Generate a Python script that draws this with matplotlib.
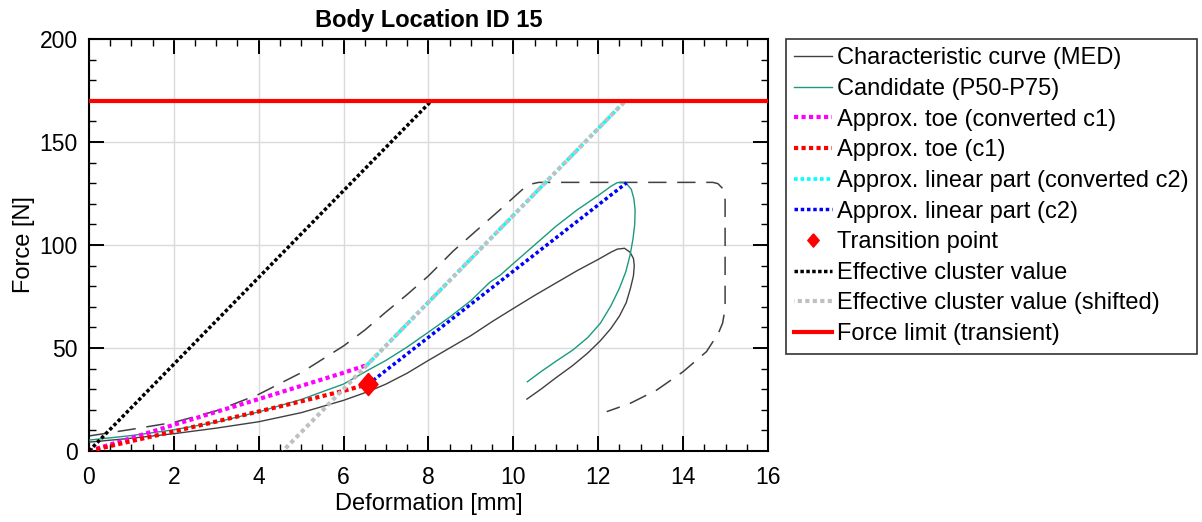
import numpy as np
import matplotlib
matplotlib.use('Agg')
import matplotlib.pyplot as plt
from matplotlib.ticker import MultipleLocator

plt.rcParams['font.family'] = ['Liberation Sans', 'DejaVu Sans']

# curva caracteristica (mediana)
med_x = [0, 1, 2, 3, 4, 5, 6, 6.6, 7, 7.5, 8, 8.5, 9, 9.5, 10, 10.5, 11, 11.5,
         12, 12.3, 12.45, 12.62, 12.75, 12.83, 12.85, 12.83, 12.76, 12.66, 12.5,
         12.3, 12.05, 11.75, 11.4, 11.0, 10.65, 10.32]
med_y = [4.3, 6.2, 8.4, 11.1, 14.2, 18.6, 24.6, 29.0, 32.5, 37.8, 44.0, 50.0,
         56.0, 62.8, 69.2, 75.5, 81.5, 87.5, 93.0, 96.5, 98.0, 98.4, 96.5, 93.5,
         90.0, 85.0, 79.0, 72.0, 65.5, 59.5, 53.5, 47.5, 41.5, 35.5, 30.0, 25.2]

# candidato P50-P75
cand_x = [0, 1, 2, 3, 4, 5, 6, 6.6, 7, 7.5, 8, 8.5, 9, 9.45, 9.7, 10, 10.5,
          11, 11.5, 12, 12.3, 12.45, 12.65, 12.78, 12.84, 12.87, 12.86, 12.82,
          12.75, 12.65, 12.5, 12.3, 12.05, 11.75, 11.4, 11.0, 10.65, 10.33]
cand_y = [5.3, 7.5, 10.3, 14.0, 19.0, 25.0, 32.5, 39.5, 44.0, 50.5, 57.7, 65.0,
          73.0, 82.0, 85.5, 91.0, 100.0, 109.0, 117.0, 124.0, 128.5, 130.3,
          130.2, 127.0, 122.5, 117.0, 110.0, 103.0, 95.0, 87.0, 79.0, 70.5,
          62.0, 55.0, 49.0, 43.5, 38.5, 33.6]

# envelope (tracejado)
env_x = [0, 1, 2, 3, 4, 5, 6, 6.5, 7, 7.5, 8, 8.58, 9.68, 10.2, 10.4, 10.6,
         14.7, 14.82, 14.93, 14.99, 14.99, 14.93, 14.83, 14.55, 14.0, 13.38,
         12.75, 12.2]
env_y = [7.3, 10.5, 13.9, 19.5, 27.5, 38.0, 51.0, 58.7, 67.5, 76.0, 85.0, 97.0,
         117.0, 126.7, 129.5, 130.4, 130.4, 129.8, 127.5, 122.0, 69.0, 62.0,
         57.1, 48.2, 38.5, 29.6, 23.1, 19.1]

# aproximacao do pe (toe)
toe_x = [0, 1, 2, 3, 4, 5, 6, 6.58]
toe_c1 = [0, 4.8, 9.5, 14.3, 19.2, 24.1, 29.2, 32.4]
toe_conv_x = [0, 1, 2, 3, 4, 5, 6, 6.55]
toe_conv_c1 = [0, 6.3, 12.7, 19.0, 25.2, 31.6, 38.0, 41.7]

# parte linear
lin_x = [6.58, 12.67]
lin_c2 = [32.4, 130.2]
lin_conv_x = [6.55, 12.64]
lin_conv_c2 = [41.7, 170.0]

# ponto de transicao
trans_x = [6.58]
trans_y = [32.4]

# valor efetivo do cluster
eff_x = [0, 8.07]
eff_y = [0, 170.0]
eff_shift_x = [4.57, 12.64]
eff_shift_y = [0, 170.0]

force_limit = 170.0
x_lim = [0, 16]
y_lim = [0, 200]

dot = (0, (1, 0.8))
diamond = [(0, 1), (0.86, 0), (0, -1), (-0.86, 0), (0, 1)]

fig = plt.figure(figsize=(12.02, 5.22), dpi=100)
ax = fig.add_axes([0.0740, 0.1360, 0.5649, 0.7893])

ax.plot(env_x, env_y, color='#404040', lw=1.1, linestyle=(0, (12, 7)), zorder=2)
ax.plot(med_x, med_y, color='#404040', lw=1.0, label='Characteristic curve (MED)', zorder=3)
ax.plot(cand_x, cand_y, color='#1a9a80', lw=1.0, label='Candidate (P50-P75)', zorder=3)
ax.plot(toe_conv_x, toe_conv_c1, color='#ff00ff', lw=3.0, linestyle=dot,
        label='Approx. toe (converted c1)', zorder=4)
ax.plot(toe_x, toe_c1, color='#ff0000', lw=3.0, linestyle=dot,
        label='Approx. toe (c1)', zorder=4)
ax.plot(lin_conv_x, lin_conv_c2, color='#00ffff', lw=2.6, linestyle=dot,
        label='Approx. linear part (converted c2)', zorder=4)
ax.plot(lin_x, lin_c2, color='#0000ff', lw=2.5, linestyle=dot,
        label='Approx. linear part (c2)', zorder=4)
ax.plot(trans_x, trans_y, linestyle='none', marker=diamond, markersize=16,
        color='#ff0000', label='Transition point', zorder=6)
ax.plot(eff_x, eff_y, color='black', lw=2.5, linestyle=(0, (1, 0.7)),
        label='Effective cluster value', zorder=4)
ax.plot(eff_shift_x, eff_shift_y, color='#c0c0c0', lw=3.0, linestyle=(0.9, (1, 0.8)),
        label='Effective cluster value (shifted)', zorder=4)
ax.axhline(force_limit, color='#ff0000', lw=3.0, label='Force limit (transient)', zorder=5)

ax.set_xlim(x_lim)
ax.set_ylim(y_lim)
ax.xaxis.set_major_locator(MultipleLocator(2))
ax.xaxis.set_minor_locator(MultipleLocator(0.5))
ax.yaxis.set_major_locator(MultipleLocator(50))
ax.yaxis.set_minor_locator(MultipleLocator(10))
ax.tick_params(which='both', direction='in', top=True, right=True, labelsize=16.5, colors='black')
ax.tick_params(which='major', length=10.5, width=1.4)
ax.tick_params(which='minor', length=5.2, width=1.0)
ax.tick_params(axis='x', pad=11)
ax.tick_params(axis='y', pad=8)
for s in ax.spines.values():
    s.set_linewidth(1.5)
ax.grid(True, which='major', color='#dadada', lw=1.0)
ax.set_axisbelow(True)

ax.set_xlabel('Deformation [mm]', fontsize=17, labelpad=3)
ax.set_ylabel('Force [N]', fontsize=17, labelpad=3)
ax.set_title('Body Location ID 15', fontsize=17, fontweight='bold', pad=8.5)

leg = ax.legend(loc='upper left', bbox_to_anchor=(0.6537, 0.9253),
                bbox_transform=fig.transFigure, fontsize=17, frameon=True,
                fancybox=False, edgecolor='black', borderaxespad=0,
                borderpad=0.36, labelspacing=0.365, handlelength=1.62,
                handletextpad=0.2, markerscale=0.6)
leg.get_frame().set_linewidth(1.2)

fig.savefig('out.png', dpi=100)
